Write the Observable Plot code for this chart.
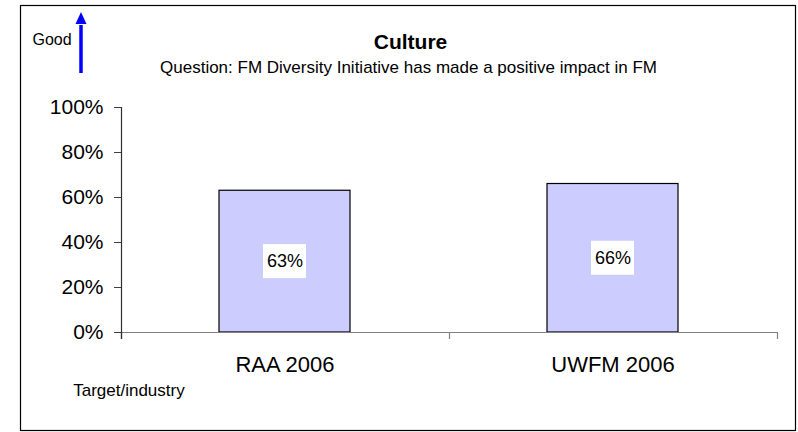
<!DOCTYPE html>
<html>
<head>
<meta charset="utf-8">
<script src="https://cdn.jsdelivr.net/npm/d3@7"></script>
<script src="https://cdn.jsdelivr.net/npm/@observablehq/plot@0.6"></script>
<style>
  html, body { margin: 0; padding: 0; background: #fff; }
  #chart svg { display: block; }
</style>
</head>
<body>
<div id="chart"></div>
<script>
const categories = ["RAA 2006", "UWFM 2006"];
const values = [0.63, 0.66];
const yTicks = [0, 0.2, 0.4, 0.6, 0.8, 1.0];
const title = "Culture";
const subtitle = "Question: FM Diversity Initiative has made a positive impact in FM";
const goodLabel = "Good";
const footLabel = "Target/industry";

const data = categories.map((c, i) => ({category: c, value: values[i]}));
const pct = d3.format(".0%");
const font = "'Liberation Sans', Arial, Helvetica, sans-serif";

const chart = Plot.plot({
  width: 798,
  height: 432,
  marginLeft: 121,
  marginRight: 21,
  marginTop: 107,
  marginBottom: 100,
  style: {fontFamily: font, background: "white", color: "black"},
  x: {domain: categories, paddingInner: 0.6, paddingOuter: 0.3, label: null},
  y: {domain: [0, 1], label: null},
  marks: [
    Plot.barY(data, {x: "category", y: "value", fill: "#ccccff", stroke: "black", strokeWidth: 1.2}),
    Plot.ruleY([0], {stroke: "#808080", strokeWidth: 1.2}),
    Plot.axisY({ticks: yTicks, tickFormat: pct, tickSize: 7, tickPadding: 11, fontSize: 21, stroke: "#404040", fill: "black", label: null}),
    Plot.axisX({tickSize: 0, tickPadding: 24, fontSize: 22, fill: "black", label: null}),
    Plot.barY(data, {x: "category", y1: d => d.value / 2, y2: d => d.value / 2,
      insetLeft: 44, insetRight: 44, insetTop: -17, insetBottom: -17, fill: "white"}),
    Plot.text(data, {x: "category", y: d => d.value / 2, text: d => pct(d.value), fontSize: 18, fill: "black"}),
    Plot.text([title], {frameAnchor: "top", lineAnchor: "middle", dx: -39, dy: -65.4, fontSize: 21, fontWeight: "bold", fill: "black"}),
    Plot.text([subtitle], {frameAnchor: "top", lineAnchor: "middle", dx: -41, dy: -40, fontSize: 17, fill: "black"}),
    Plot.text([goodLabel], {frameAnchor: "top-left", lineAnchor: "middle", textAnchor: "start", dx: -89, dy: -67.8, fontSize: 16, fill: "black"}),
    Plot.text([footLabel], {frameAnchor: "bottom-left", lineAnchor: "middle", textAnchor: "start", dx: -48.3, dy: 57.6, fontSize: 17, fill: "black"})
  ]
});

document.getElementById("chart").appendChild(chart);

// Decorations derived from the chart's own scales
const xs = chart.scale("x");
const ys = chart.scale("y");
const svg = d3.select(chart);
const x0 = xs.range[0];
const y0 = ys.apply(0);
const yTop = ys.apply(1);

// y-axis line
svg.append("line")
  .attr("x1", x0 + 0.5).attr("x2", x0 + 0.5)
  .attr("y1", yTop).attr("y2", y0 + 7)
  .attr("stroke", "#303030").attr("stroke-width", 1.2);

// category boundary ticks on x axis
d3.range(categories.length + 1).forEach(i => {
  const bx = x0 + i * xs.step;
  svg.append("line")
    .attr("x1", bx + 0.5).attr("x2", bx + 0.5)
    .attr("y1", y0).attr("y2", y0 + 7)
    .attr("stroke", i === 0 ? "#303030" : "#808080").attr("stroke-width", 1.2);
});

// "Good" arrow
const ax = x0 - 40;
svg.append("line")
  .attr("x1", ax).attr("x2", ax)
  .attr("y1", yTop - 34).attr("y2", yTop - 82)
  .attr("stroke", "#0000ff").attr("stroke-width", 3.5);
svg.append("path")
  .attr("d", `M${ax},${yTop - 95} L${ax - 5.5},${yTop - 83} L${ax + 5.5},${yTop - 83} Z`)
  .attr("fill", "#0000ff");

// outer border
svg.append("rect")
  .attr("x", 20.5).attr("y", 5.5)
  .attr("width", 775).attr("height", 425)
  .attr("fill", "none").attr("stroke", "black").attr("stroke-width", 1.2);
</script>
</body>
</html>
